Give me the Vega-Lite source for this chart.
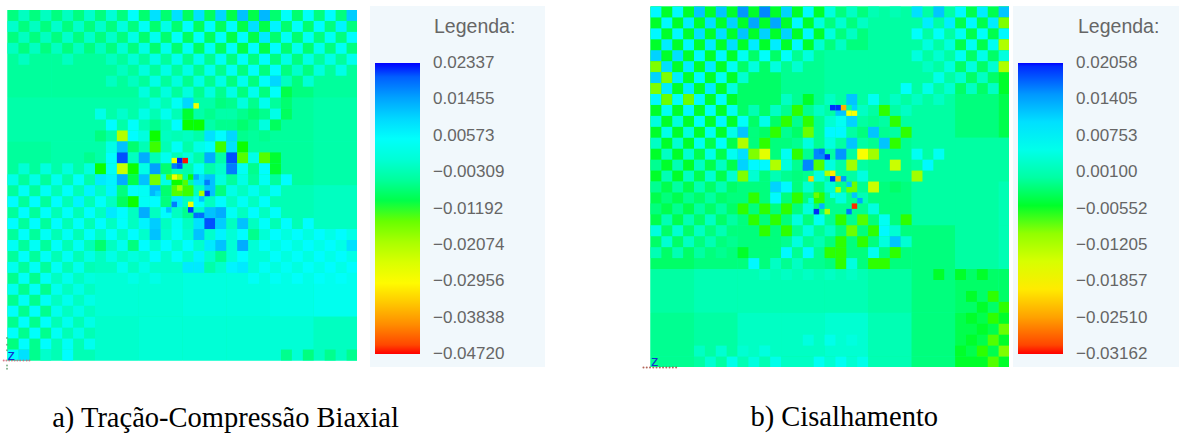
{"$schema":"https://vega.github.io/schema/vega-lite/v6.json","padding":{"left":2,"top":5,"right":0,"bottom":0},"background":"white","config":{"view":{"stroke":null}},"spacing":96,"resolve":{"scale":{"color":"independent"},"legend":{"color":"independent"}},"datasets":{
"aBase":[{"c":0,"r":0,"v":-0.003}],"cBase":[{"c":0,"r":0,"v":0}],
"aBg":[{"c":0,"r":0,"v":-0.007},{"c":4,"r":0,"v":-0.007},{"c":8,"r":0,"v":-0.007},{"c":12,"r":0,"v":-0.008},{"c":16,"r":0,"v":-0.009},{"c":20,"r":0,"v":-0.01},{"c":24,"r":0,"v":-0.008},{"c":28,"r":0,"v":-0.007},
{"c":0,"r":4,"v":-0.005},{"c":4,"r":4,"v":-0.005},{"c":8,"r":4,"v":-0.005},{"c":12,"r":4,"v":-0.005},{"c":16,"r":4,"v":-0.006},{"c":20,"r":4,"v":-0.007},{"c":24,"r":4,"v":-0.007},{"c":28,"r":4,"v":-0.005},
{"c":0,"r":8,"v":-0.004},{"c":4,"r":8,"v":-0.004},{"c":8,"r":8,"v":-0.004},{"c":12,"r":8,"v":-0.003},{"c":16,"r":8,"v":-0.004},{"c":20,"r":8,"v":-0.006},{"c":24,"r":8,"v":-0.005},{"c":28,"r":8,"v":-0.004},
{"c":0,"r":12,"v":-0.005},{"c":4,"r":12,"v":-0.004},{"c":8,"r":12,"v":-0.004},{"c":12,"r":12,"v":-0.003},{"c":16,"r":12,"v":-0.004},{"c":20,"r":12,"v":-0.005},{"c":24,"r":12,"v":-0.005},{"c":28,"r":12,"v":-0.004},
{"c":0,"r":16,"v":-0.005},{"c":4,"r":16,"v":-0.003},{"c":8,"r":16,"v":-0.002},{"c":12,"r":16,"v":-0.002},{"c":16,"r":16,"v":-0.002},{"c":20,"r":16,"v":-0.002},{"c":24,"r":16,"v":-0.003},{"c":28,"r":16,"v":-0.002},
{"c":0,"r":20,"v":-0.005},{"c":4,"r":20,"v":-0.003},{"c":8,"r":20,"v":-0.002},{"c":12,"r":20,"v":-0.001},{"c":16,"r":20,"v":-0.001},{"c":20,"r":20,"v":0},{"c":24,"r":20,"v":0.001},{"c":28,"r":20,"v":0.002},
{"c":0,"r":24,"v":-0.006},{"c":4,"r":24,"v":-0.002},{"c":8,"r":24,"v":0},{"c":12,"r":24,"v":0},{"c":16,"r":24,"v":0.001},{"c":20,"r":24,"v":0.001},{"c":24,"r":24,"v":0.002},{"c":28,"r":24,"v":0.003},
{"c":0,"r":28,"v":-0.006},{"c":4,"r":28,"v":-0.003},{"c":8,"r":28,"v":-0.001},{"c":12,"r":28,"v":0},{"c":16,"r":28,"v":0},{"c":20,"r":28,"v":0},{"c":24,"r":28,"v":0},{"c":28,"r":28,"v":-0.002}],
"aCell":[{"c":1,"r":0,"v":-0.002},{"c":3,"r":0,"v":-0.002},{"c":5,"r":0,"v":-0.002},{"c":7,"r":0,"v":-0.001},{"c":9,"r":0,"v":0},{"c":11,"r":0,"v":0.005},{"c":13,"r":0,"v":0.009},{"c":15,"r":0,"v":0.009},{"c":17,"r":0,"v":0.009},{"c":19,"r":0,"v":0.01},{"c":21,"r":0,"v":0.012},{"c":23,"r":0,"v":0.013},{"c":25,"r":0,"v":0.005},{"c":27,"r":0,"v":0.005},{"c":29,"r":0,"v":0.006},{"c":31,"r":0,"v":0.011},
{"c":0,"r":1,"v":-0.001},{"c":2,"r":1,"v":-0.002},{"c":4,"r":1,"v":-0.001},{"c":6,"r":1,"v":-0.001},{"c":8,"r":1,"v":-0.001},{"c":10,"r":1,"v":0.001},{"c":12,"r":1,"v":0.004},{"c":14,"r":1,"v":0.002},{"c":16,"r":1,"v":0.006},{"c":18,"r":1,"v":0.006},{"c":20,"r":1,"v":0.006},{"c":22,"r":1,"v":0.009},{"c":24,"r":1,"v":0.007},{"c":26,"r":1,"v":0.005},{"c":28,"r":1,"v":0.006},{"c":30,"r":1,"v":0.007},
{"c":1,"r":2,"v":-0.002},{"c":3,"r":2,"v":-0.002},{"c":5,"r":2,"v":-0.001},{"c":7,"r":2,"v":-0.001},{"c":9,"r":2,"v":-0.001},{"c":11,"r":2,"v":0.002},{"c":13,"r":2,"v":0.003},{"c":15,"r":2,"v":0.005},{"c":17,"r":2,"v":0.005},{"c":19,"r":2,"v":0.005},{"c":21,"r":2,"v":0.006},{"c":23,"r":2,"v":0.008},{"c":25,"r":2,"v":0.004},{"c":27,"r":2,"v":0.004},{"c":29,"r":2,"v":0.004},{"c":31,"r":2,"v":0.006},
{"c":0,"r":3,"v":-0.002},{"c":2,"r":3,"v":-0.002},{"c":4,"r":3,"v":-0.002},{"c":6,"r":3,"v":-0.002},{"c":8,"r":3,"v":-0.002},{"c":10,"r":3,"v":0},{"c":12,"r":3,"v":0.002},{"c":14,"r":3,"v":0.003},{"c":16,"r":3,"v":0.004},{"c":18,"r":3,"v":0.004},{"c":20,"r":3,"v":0.005},{"c":22,"r":3,"v":0.006},{"c":24,"r":3,"v":0.006},{"c":26,"r":3,"v":0.003},{"c":28,"r":3,"v":0.003},{"c":30,"r":3,"v":0.004},
{"c":1,"r":4,"v":-0.002},{"c":5,"r":4,"v":-0.002},{"c":9,"r":4,"v":-0.002},{"c":11,"r":4,"v":0},{"c":13,"r":4,"v":0.002},{"c":15,"r":4,"v":0.003},{"c":17,"r":4,"v":0.003},{"c":19,"r":4,"v":0.004},{"c":21,"r":4,"v":0.005},{"c":23,"r":4,"v":0.006},{"c":25,"r":4,"v":0.002},{"c":27,"r":4,"v":0.002},{"c":29,"r":4,"v":0.002},{"c":31,"r":4,"v":0.003},
{"c":10,"r":5,"v":-0.002},{"c":12,"r":5,"v":0.001},{"c":14,"r":5,"v":0.002},{"c":16,"r":5,"v":0.002},{"c":18,"r":5,"v":0.003},{"c":20,"r":5,"v":0.004},{"c":22,"r":5,"v":0.005},{"c":24,"r":5,"v":0.006},{"c":26,"r":5,"v":-0.001},{"c":28,"r":5,"v":0.001},{"c":30,"r":5,"v":0.002},
{"c":9,"r":6,"v":-0.002},{"c":11,"r":6,"v":-0.002},{"c":13,"r":6,"v":0.002},{"c":15,"r":6,"v":0.001},{"c":17,"r":6,"v":0.002},{"c":19,"r":6,"v":0.002},{"c":21,"r":6,"v":0.003},{"c":23,"r":6,"v":0.005},{"c":24,"r":6,"v":0.01},{"c":25,"r":6,"v":-0.002},{"c":27,"r":6,"v":0},
{"c":12,"r":7,"v":0.001},{"c":14,"r":7,"v":0.001},{"c":16,"r":7,"v":0.001},{"c":18,"r":7,"v":0.001},{"c":20,"r":7,"v":0.002},{"c":22,"r":7,"v":0.003},{"c":24,"r":7,"v":0.005},{"c":25,"r":7,"v":-0.01},
{"c":13,"r":8,"v":0.001},{"c":15,"r":8,"v":0.004},{"c":16,"r":8,"v":0.01},{"c":19,"r":8,"v":-0.007},{"c":21,"r":8,"v":0.001},{"c":23,"r":8,"v":0.003},{"c":25,"r":8,"v":-0.008},
{"c":8,"r":9,"v":0.002},{"c":10,"r":9,"v":-0.001},{"c":12,"r":9,"v":0.002},{"c":14,"r":9,"v":0.003},{"c":16,"r":9,"v":-0.011},{"c":18,"r":9,"v":-0.006},{"c":20,"r":9,"v":-0.004},{"c":22,"r":9,"v":-0.008},{"c":24,"r":9,"v":0.002},{"c":25,"r":9,"v":-0.009},
{"c":9,"r":10,"v":0.006},{"c":11,"r":10,"v":0.005},{"c":13,"r":10,"v":-0.006},{"c":15,"r":10,"v":0.006},{"c":16,"r":10,"v":-0.012},{"c":17,"r":10,"v":-0.012},{"c":19,"r":10,"v":-0.006},{"c":21,"r":10,"v":-0.008},{"c":23,"r":10,"v":0.001},{"c":24,"r":10,"v":-0.009},
{"c":8,"r":11,"v":-0.007},{"c":10,"r":11,"v":-0.021},{"c":11,"r":11,"v":0.006},{"c":12,"r":11,"v":0.001},{"c":13,"r":11,"v":-0.012},{"c":14,"r":11,"v":-0.002},{"c":16,"r":11,"v":-0.002},{"c":18,"r":11,"v":0.009},{"c":19,"r":11,"v":0.006},{"c":20,"r":11,"v":0.01},{"c":22,"r":11,"v":-0.005},{"c":23,"r":11,"v":-0.006},
{"c":9,"r":12,"v":0.002},{"c":10,"r":12,"v":0.012},{"c":11,"r":12,"v":-0.008},{"c":13,"r":12,"v":-0.013},{"c":15,"r":12,"v":0.004},{"c":17,"r":12,"v":0.002},{"c":18,"r":12,"v":0.006},{"c":19,"r":12,"v":-0.013},{"c":20,"r":12,"v":0.009},{"c":21,"r":12,"v":-0.012},{"c":22,"r":12,"v":-0.005},
{"c":7,"r":13,"v":-0.006},{"c":9,"r":13,"v":0.006},{"c":10,"r":13,"v":0.021},{"c":11,"r":13,"v":-0.002},{"c":12,"r":13,"v":0.014},{"c":14,"r":13,"v":0.003},{"c":16,"r":13,"v":0.001},{"c":18,"r":13,"v":0.014},{"c":20,"r":13,"v":0.021},{"c":21,"r":13,"v":-0.014},{"c":22,"r":13,"v":0.002},{"c":23,"r":13,"v":-0.014},{"c":24,"r":13,"v":-0.011},
{"c":8,"r":14,"v":-0.012},{"c":9,"r":14,"v":0.004},{"c":10,"r":14,"v":-0.023},{"c":11,"r":14,"v":-0.012},{"c":12,"r":14,"v":0.002},{"c":13,"r":14,"v":0.015},{"c":14,"r":14,"v":-0.008},{"c":17,"r":14,"v":0.004},{"c":18,"r":14,"v":-0.004},{"c":19,"r":14,"v":-0.001},{"c":20,"r":14,"v":0.018},{"c":21,"r":14,"v":0.004},{"c":22,"r":14,"v":-0.006},{"c":23,"r":14,"v":0.006},{"c":24,"r":14,"v":-0.011},
{"c":8,"r":15,"v":0.008},{"c":9,"r":15,"v":0.007},{"c":10,"r":15,"v":0.014},{"c":11,"r":15,"v":-0.01},{"c":12,"r":15,"v":0.012},{"c":13,"r":15,"v":-0.016},{"c":14,"r":15,"v":0.002},{"c":15,"r":15,"v":-0.012},{"c":17,"r":15,"v":0.009},{"c":18,"r":15,"v":0.012},{"c":19,"r":15,"v":0.001},{"c":21,"r":15,"v":0.002},{"c":23,"r":15,"v":0.004},{"c":25,"r":15,"v":0.006},
{"c":7,"r":16,"v":0.007},{"c":9,"r":16,"v":0.007},{"c":10,"r":16,"v":-0.007},{"c":11,"r":16,"v":0.005},{"c":12,"r":16,"v":0.004},{"c":13,"r":16,"v":0.013},{"c":14,"r":16,"v":-0.008},{"c":15,"r":16,"v":-0.014},{"c":16,"r":16,"v":-0.013},{"c":18,"r":16,"v":0.012},{"c":19,"r":16,"v":-0.007},{"c":20,"r":16,"v":0.002},{"c":22,"r":16,"v":0.003},{"c":24,"r":16,"v":0.004},
{"c":8,"r":17,"v":0.005},{"c":10,"r":17,"v":-0.009},{"c":11,"r":17,"v":-0.012},{"c":12,"r":17,"v":0.004},{"c":13,"r":17,"v":0.006},{"c":14,"r":17,"v":-0.007},{"c":15,"r":17,"v":0.008},{"c":17,"r":17,"v":0.006},{"c":19,"r":17,"v":0.006},{"c":21,"r":17,"v":0.004},{"c":23,"r":17,"v":0.005},
{"c":7,"r":18,"v":0.006},{"c":9,"r":18,"v":0.008},{"c":10,"r":18,"v":0.006},{"c":12,"r":18,"v":0.014},{"c":14,"r":18,"v":0.006},{"c":16,"r":18,"v":-0.006},{"c":18,"r":18,"v":0.012},{"c":19,"r":18,"v":0.014},{"c":20,"r":18,"v":0.004},{"c":22,"r":18,"v":0.006},{"c":24,"r":18,"v":0.005},
{"c":8,"r":19,"v":0.006},{"c":10,"r":19,"v":0.005},{"c":12,"r":19,"v":0.007},{"c":13,"r":19,"v":0.011},{"c":15,"r":19,"v":0.004},{"c":17,"r":19,"v":0.009},{"c":18,"r":19,"v":0.021},{"c":19,"r":19,"v":0.011},{"c":21,"r":19,"v":0.012},{"c":23,"r":19,"v":0.005},{"c":25,"r":19,"v":0.006},{"c":27,"r":19,"v":0.006},
{"c":9,"r":20,"v":0.005},{"c":11,"r":20,"v":0.006},{"c":13,"r":20,"v":0.012},{"c":15,"r":20,"v":0.005},{"c":17,"r":20,"v":0.012},{"c":19,"r":20,"v":0.007},{"c":21,"r":20,"v":0.006},{"c":22,"r":20,"v":-0.006},{"c":24,"r":20,"v":0.006},{"c":26,"r":20,"v":0.006},{"c":28,"r":20,"v":0.006},{"c":30,"r":20,"v":0.006},
{"c":8,"r":21,"v":-0.008},{"c":10,"r":21,"v":0.003},{"c":11,"r":21,"v":-0.007},{"c":12,"r":21,"v":0.006},{"c":14,"r":21,"v":0.006},{"c":16,"r":21,"v":0.006},{"c":18,"r":21,"v":0.008},{"c":19,"r":21,"v":0.012},{"c":21,"r":21,"v":0.014},{"c":23,"r":21,"v":0.005},{"c":25,"r":21,"v":0.005},{"c":27,"r":21,"v":0.006},{"c":29,"r":21,"v":0.006},{"c":31,"r":21,"v":0.009},
{"c":9,"r":22,"v":0.002},{"c":11,"r":22,"v":0.001},{"c":13,"r":22,"v":0.006},{"c":15,"r":22,"v":0.005},{"c":17,"r":22,"v":0.007},{"c":19,"r":22,"v":-0.006},{"c":21,"r":22,"v":0.006},{"c":24,"r":22,"v":0.005},{"c":26,"r":22,"v":0.005},{"c":28,"r":22,"v":0.006},{"c":30,"r":22,"v":0.006},
{"c":10,"r":23,"v":0.003},{"c":12,"r":23,"v":0.002},{"c":16,"r":23,"v":0.008},{"c":17,"r":23,"v":0.008},{"c":18,"r":23,"v":-0.004},{"c":20,"r":23,"v":0.007},{"c":21,"r":23,"v":0.008},{"c":23,"r":23,"v":0.004},{"c":25,"r":23,"v":0.004},{"c":27,"r":23,"v":0.005},{"c":29,"r":23,"v":0.006},{"c":31,"r":23,"v":0.006},
{"c":11,"r":24,"v":0.002},{"c":13,"r":24,"v":0.002},{"c":22,"r":24,"v":0.004},{"c":24,"r":24,"v":0.004},{"c":26,"r":24,"v":0.005},{"c":28,"r":24,"v":0.005},{"c":30,"r":24,"v":0.005},
{"c":1,"r":14,"v":0},{"c":3,"r":14,"v":0.001},{"c":5,"r":14,"v":0.001},{"c":7,"r":14,"v":0.001},{"c":0,"r":15,"v":0.002},{"c":2,"r":15,"v":0.002},{"c":4,"r":15,"v":0.003},{"c":6,"r":15,"v":0.005},
{"c":1,"r":16,"v":0.004},{"c":3,"r":16,"v":0.004},{"c":5,"r":16,"v":0.005},{"c":0,"r":17,"v":0.006},{"c":2,"r":17,"v":0.006},{"c":4,"r":17,"v":0.006},{"c":6,"r":17,"v":0.007},{"c":1,"r":18,"v":0.006},{"c":3,"r":18,"v":0.005},{"c":5,"r":18,"v":0.005},{"c":0,"r":19,"v":0.006},{"c":2,"r":19,"v":0.006},{"c":4,"r":19,"v":0.006},{"c":6,"r":19,"v":0.005},
{"c":1,"r":20,"v":0.005},{"c":3,"r":20,"v":0.004},{"c":5,"r":20,"v":0.004},{"c":7,"r":20,"v":0.005},{"c":0,"r":21,"v":0.004},{"c":2,"r":21,"v":0.004},{"c":4,"r":21,"v":0.005},{"c":6,"r":21,"v":0.004},{"c":1,"r":22,"v":0.005},{"c":3,"r":22,"v":0.004},{"c":5,"r":22,"v":0.004},{"c":7,"r":22,"v":0.002},{"c":0,"r":23,"v":0.003},{"c":2,"r":23,"v":0.004},{"c":4,"r":23,"v":0.004},{"c":6,"r":23,"v":0.003},
{"c":1,"r":24,"v":0.004},{"c":3,"r":24,"v":0.004},{"c":5,"r":24,"v":0.003},{"c":7,"r":24,"v":0.001},{"c":0,"r":25,"v":0.003},{"c":2,"r":25,"v":0.004},{"c":4,"r":25,"v":0.003},{"c":6,"r":25,"v":0.002},{"c":1,"r":26,"v":0.004},{"c":3,"r":26,"v":0.004},{"c":5,"r":26,"v":0.003},{"c":7,"r":26,"v":0.002},{"c":0,"r":27,"v":0.005},{"c":2,"r":27,"v":0.005},{"c":4,"r":27,"v":0.003},{"c":6,"r":27,"v":0.002},
{"c":1,"r":28,"v":0.005},{"c":3,"r":28,"v":0.005},{"c":5,"r":28,"v":0.003},{"c":7,"r":28,"v":0.002},{"c":0,"r":29,"v":0.005},{"c":2,"r":29,"v":0.005},{"c":4,"r":29,"v":0.004},{"c":6,"r":29,"v":0.002},{"c":1,"r":30,"v":0.006},{"c":3,"r":30,"v":0.006},{"c":5,"r":30,"v":0.004},{"c":7,"r":30,"v":0.003},{"c":0,"r":30,"v":-0.007},{"c":1,"r":31,"v":0.009},{"c":0,"r":31,"v":0.006},{"c":3,"r":31,"v":-0.001},{"c":5,"r":31,"v":0.006},{"c":25,"r":31,"v":-0.006},{"c":27,"r":31,"v":-0.007},{"c":29,"r":31,"v":-0.006},{"c":31,"r":31,"v":-0.006}],
"aFine":[{"c":15,"r":13.5,"v":-0.028},{"c":15.5,"r":13.5,"v":0.023},{"c":16,"r":13.5,"v":-0.047},{"c":15,"r":14,"v":0.018},{"c":15.5,"r":14,"v":0.021},{"c":15,"r":15,"v":-0.028},{"c":15.5,"r":15,"v":-0.02},{"c":15.5,"r":16,"v":-0.02},{"c":16,"r":15.5,"v":-0.014},{"c":16.5,"r":15,"v":-0.012},{"c":18,"r":15.5,"v":0.018},{"c":18,"r":16.5,"v":0.022},{"c":17.5,"r":16.5,"v":-0.02},{"c":18.5,"r":16,"v":0.012},{"c":16.5,"r":17.5,"v":-0.028},{"c":16.5,"r":18,"v":0.022},{"c":17,"r":18.5,"v":0.019},{"c":17.5,"r":18.5,"v":0.019},{"c":15,"r":17.5,"v":0.018},{"c":14.5,"r":18,"v":0.012},{"c":17,"r":8.5,"v":-0.028},{"c":13.5,"r":16.5,"v":0.01},{"c":14.5,"r":15,"v":-0.014},{"c":17,"r":15,"v":0.014},{"c":17.5,"r":17,"v":0.012}],
"cBg":[{"c":0,"r":0,"v":-0.005},{"c":4,"r":0,"v":-0.005},{"c":8,"r":0,"v":-0.005},{"c":12,"r":0,"v":-0.005},{"c":16,"r":0,"v":-0.002},{"c":20,"r":0,"v":0},{"c":24,"r":0,"v":0},{"c":28,"r":0,"v":-0.004},{"c":32,"r":0,"v":-0.005},
{"c":0,"r":4,"v":-0.005},{"c":4,"r":4,"v":-0.005},{"c":8,"r":4,"v":-0.003},{"c":12,"r":4,"v":-0.001},{"c":16,"r":4,"v":0},{"c":20,"r":4,"v":0},{"c":24,"r":4,"v":0},{"c":28,"r":4,"v":-0.003},{"c":32,"r":4,"v":-0.005},
{"c":0,"r":8,"v":-0.005},{"c":4,"r":8,"v":-0.005},{"c":8,"r":8,"v":-0.003},{"c":12,"r":8,"v":-0.001},{"c":16,"r":8,"v":0},{"c":20,"r":8,"v":0},{"c":24,"r":8,"v":0},{"c":28,"r":8,"v":-0.002},{"c":32,"r":8,"v":-0.004},
{"c":0,"r":12,"v":-0.005},{"c":4,"r":12,"v":-0.004},{"c":8,"r":12,"v":-0.002},{"c":12,"r":12,"v":-0.001},{"c":16,"r":12,"v":0},{"c":20,"r":12,"v":-0.001},{"c":24,"r":12,"v":0},{"c":28,"r":12,"v":0},{"c":32,"r":12,"v":0},
{"c":0,"r":16,"v":-0.004},{"c":4,"r":16,"v":-0.003},{"c":8,"r":16,"v":-0.002},{"c":12,"r":16,"v":-0.002},{"c":16,"r":16,"v":-0.001},{"c":20,"r":16,"v":-0.002},{"c":24,"r":16,"v":0},{"c":28,"r":16,"v":0},{"c":32,"r":16,"v":0.001},
{"c":0,"r":20,"v":-0.003},{"c":4,"r":20,"v":-0.002},{"c":8,"r":20,"v":-0.002},{"c":12,"r":20,"v":-0.001},{"c":16,"r":20,"v":-0.002},{"c":20,"r":20,"v":-0.002},{"c":24,"r":20,"v":-0.002},{"c":28,"r":20,"v":0},{"c":32,"r":20,"v":0.001},
{"c":0,"r":24,"v":0},{"c":4,"r":24,"v":0.001},{"c":8,"r":24,"v":0.001},{"c":12,"r":24,"v":0.001},{"c":16,"r":24,"v":0.001},{"c":20,"r":24,"v":0},{"c":24,"r":24,"v":-0.002},{"c":28,"r":24,"v":-0.003},{"c":32,"r":24,"v":-0.003},
{"c":0,"r":28,"v":-0.001},{"c":4,"r":28,"v":0},{"c":8,"r":28,"v":0.002},{"c":12,"r":28,"v":0.002},{"c":16,"r":28,"v":0.003},{"c":20,"r":28,"v":0.001},{"c":24,"r":28,"v":-0.002},{"c":28,"r":28,"v":-0.004},{"c":32,"r":28,"v":-0.005},
{"c":0,"r":32,"v":-0.001},{"c":4,"r":32,"v":0},{"c":8,"r":32,"v":0.001},{"c":12,"r":32,"v":0.002},{"c":16,"r":32,"v":0.003},{"c":20,"r":32,"v":0.001},{"c":24,"r":32,"v":-0.002},{"c":28,"r":32,"v":-0.005},{"c":32,"r":32,"v":-0.005}],
"cCell":[{"c":0,"r":0,"v":0.008},{"c":2,"r":0,"v":0.008},{"c":4,"r":0,"v":0.012},{"c":6,"r":0,"v":0.012},{"c":8,"r":0,"v":0.015},{"c":10,"r":0,"v":0.016},{"c":12,"r":0,"v":0.011},{"c":14,"r":0,"v":0.008},{"c":16,"r":0,"v":0.004},{"c":18,"r":0,"v":0.002},{"c":20,"r":0,"v":0.001},{"c":22,"r":0,"v":0.001},{"c":24,"r":0,"v":0.01},{"c":26,"r":0,"v":0.012},{"c":28,"r":0,"v":0.008},{"c":30,"r":0,"v":0.009},{"c":32,"r":0,"v":0.012},
{"c":1,"r":1,"v":0.008},{"c":3,"r":1,"v":0.009},{"c":5,"r":1,"v":0.01},{"c":7,"r":1,"v":0.011},{"c":9,"r":1,"v":0.014},{"c":11,"r":1,"v":0.014},{"c":13,"r":1,"v":0.008},{"c":15,"r":1,"v":0.004},{"c":17,"r":1,"v":0.003},{"c":19,"r":1,"v":0.002},{"c":25,"r":1,"v":0.009},{"c":27,"r":1,"v":0.009},{"c":29,"r":1,"v":0.008},{"c":31,"r":1,"v":0.009},{"c":32,"r":1,"v":-0.009},
{"c":0,"r":2,"v":0.008},{"c":2,"r":2,"v":0.008},{"c":4,"r":2,"v":0.01},{"c":6,"r":2,"v":0.01},{"c":8,"r":2,"v":0.012},{"c":10,"r":2,"v":0.011},{"c":12,"r":2,"v":0.011},{"c":14,"r":2,"v":0.008},{"c":16,"r":2,"v":0.004},{"c":18,"r":2,"v":0.002},{"c":24,"r":2,"v":0.007},{"c":26,"r":2,"v":0.007},{"c":28,"r":2,"v":0.006},{"c":30,"r":2,"v":0.007},{"c":32,"r":2,"v":0.008},
{"c":1,"r":3,"v":0.009},{"c":3,"r":3,"v":0.008},{"c":5,"r":3,"v":0.009},{"c":7,"r":3,"v":0.01},{"c":9,"r":3,"v":0.009},{"c":11,"r":3,"v":0.009},{"c":13,"r":3,"v":0.008},{"c":15,"r":3,"v":0.003},{"c":17,"r":3,"v":0.002},{"c":25,"r":3,"v":0.004},{"c":27,"r":3,"v":0.004},{"c":29,"r":3,"v":0.006},{"c":31,"r":3,"v":0.006},{"c":32,"r":3,"v":-0.012},
{"c":0,"r":4,"v":0.011},{"c":2,"r":4,"v":0.01},{"c":4,"r":4,"v":0.008},{"c":6,"r":4,"v":0.008},{"c":8,"r":4,"v":0.006},{"c":10,"r":4,"v":0.007},{"c":12,"r":4,"v":0.007},{"c":14,"r":4,"v":0.004},{"c":24,"r":4,"v":0.004},{"c":26,"r":4,"v":0.003},{"c":28,"r":4,"v":0.006},{"c":30,"r":4,"v":0.005},{"c":32,"r":4,"v":0.004},
{"c":0,"r":5,"v":-0.009},{"c":1,"r":5,"v":0.01},{"c":3,"r":5,"v":0.009},{"c":5,"r":5,"v":0.009},{"c":7,"r":5,"v":0.006},{"c":9,"r":5,"v":0.004},{"c":11,"r":5,"v":0.004},{"c":13,"r":5,"v":0.003},{"c":25,"r":5,"v":0.002},{"c":27,"r":5,"v":0.004},{"c":29,"r":5,"v":0.004},{"c":31,"r":5,"v":0.003},{"c":32,"r":5,"v":-0.012},
{"c":0,"r":6,"v":0.011},{"c":1,"r":6,"v":-0.009},{"c":2,"r":6,"v":0.009},{"c":4,"r":6,"v":0.008},{"c":6,"r":6,"v":0.006},{"c":8,"r":6,"v":0.003},{"c":26,"r":6,"v":0.005},{"c":28,"r":6,"v":0.003},{"c":30,"r":6,"v":0.002},
{"c":0,"r":7,"v":-0.009},{"c":1,"r":7,"v":0.009},{"c":3,"r":7,"v":0.009},{"c":5,"r":7,"v":0.009},{"c":7,"r":7,"v":0.004},{"c":23,"r":7,"v":0.007},{"c":25,"r":7,"v":0.005},{"c":27,"r":7,"v":0.003},{"c":29,"r":7,"v":0.002},{"c":31,"r":7,"v":0.002},
{"c":0,"r":8,"v":0.008},{"c":1,"r":8,"v":-0.008},{"c":2,"r":8,"v":0.007},{"c":3,"r":8,"v":-0.008},{"c":4,"r":8,"v":0.008},{"c":6,"r":8,"v":0.007},{"c":12,"r":8,"v":0.002},{"c":14,"r":8,"v":-0.005},{"c":16,"r":8,"v":0.002},{"c":18,"r":8,"v":0.012},{"c":20,"r":8,"v":0.006},{"c":22,"r":8,"v":0.002},{"c":24,"r":8,"v":0.002},{"c":26,"r":8,"v":0.002},
{"c":1,"r":9,"v":0.006},{"c":3,"r":9,"v":0.008},{"c":5,"r":9,"v":0.007},{"c":7,"r":9,"v":0.006},{"c":9,"r":9,"v":0.001},{"c":11,"r":9,"v":0.002},{"c":13,"r":9,"v":-0.006},{"c":15,"r":9,"v":0.002},{"c":17,"r":9,"v":0.012},{"c":19,"r":9,"v":0.002},{"c":21,"r":9,"v":-0.006},{"c":23,"r":9,"v":0.002},
{"c":0,"r":10,"v":0.004},{"c":2,"r":10,"v":0.004},{"c":4,"r":10,"v":0.007},{"c":6,"r":10,"v":0.008},{"c":8,"r":10,"v":0.007},{"c":10,"r":10,"v":0.005},{"c":12,"r":10,"v":-0.006},{"c":14,"r":10,"v":-0.006},{"c":16,"r":10,"v":0.003},{"c":17,"r":10,"v":0.006},{"c":18,"r":10,"v":0.011},{"c":20,"r":10,"v":-0.001},{"c":22,"r":10,"v":-0.006},
{"c":1,"r":11,"v":0.005},{"c":3,"r":11,"v":0.004},{"c":5,"r":11,"v":0.006},{"c":7,"r":11,"v":0.005},{"c":8,"r":11,"v":0.012},{"c":9,"r":11,"v":-0.002},{"c":11,"r":11,"v":-0.006},{"c":13,"r":11,"v":-0.003},{"c":14,"r":11,"v":-0.008},{"c":16,"r":11,"v":0.008},{"c":17,"r":11,"v":0.008},{"c":19,"r":11,"v":-0.002},{"c":20,"r":11,"v":0.012},{"c":21,"r":11,"v":-0.001},{"c":23,"r":11,"v":-0.006},
{"c":0,"r":12,"v":0.002},{"c":2,"r":12,"v":0.003},{"c":4,"r":12,"v":0.006},{"c":6,"r":12,"v":0.007},{"c":8,"r":12,"v":-0.012},{"c":10,"r":12,"v":-0.006},{"c":12,"r":12,"v":-0.002},{"c":14,"r":12,"v":0.004},{"c":16,"r":12,"v":0.004},{"c":18,"r":12,"v":0.012},{"c":21,"r":12,"v":0.012},{"c":22,"r":12,"v":-0.006},
{"c":1,"r":13,"v":0.002},{"c":3,"r":13,"v":0.003},{"c":5,"r":13,"v":0.005},{"c":7,"r":13,"v":0.006},{"c":8,"r":13,"v":0.01},{"c":9,"r":13,"v":-0.009},{"c":10,"r":13,"v":-0.016},{"c":12,"r":13,"v":0.006},{"c":13,"r":13,"v":-0.006},{"c":15,"r":13,"v":0.016},{"c":17,"r":13,"v":0.015},{"c":19,"r":13,"v":-0.018},{"c":20,"r":13,"v":-0.011},{"c":24,"r":13,"v":0.006},{"c":26,"r":13,"v":0.006},
{"c":0,"r":14,"v":-0.001},{"c":2,"r":14,"v":0.001},{"c":4,"r":14,"v":0.002},{"c":6,"r":14,"v":0.002},{"c":8,"r":14,"v":0.011},{"c":9,"r":14,"v":0.008},{"c":10,"r":14,"v":0.008},{"c":11,"r":14,"v":-0.012},{"c":12,"r":14,"v":0.004},{"c":14,"r":14,"v":0.016},{"c":15,"r":14,"v":-0.007},{"c":16,"r":14,"v":0.004},{"c":18,"r":14,"v":-0.011},{"c":22,"r":14,"v":-0.014},{"c":25,"r":14,"v":0.008},
{"c":1,"r":15,"v":0.001},{"c":3,"r":15,"v":0.002},{"c":5,"r":15,"v":0.003},{"c":7,"r":15,"v":0.003},{"c":8,"r":15,"v":-0.009},{"c":9,"r":15,"v":0.003},{"c":11,"r":15,"v":0.001},{"c":13,"r":15,"v":-0.002},{"c":15,"r":15,"v":0.004},{"c":19,"r":15,"v":0.004},{"c":24,"r":15,"v":-0.011},
{"c":0,"r":16,"v":-0.001},{"c":2,"r":16,"v":0},{"c":4,"r":16,"v":0.001},{"c":6,"r":16,"v":0.001},{"c":11,"r":16,"v":0.011},{"c":12,"r":16,"v":0.008},{"c":14,"r":16,"v":0.003},{"c":16,"r":16,"v":0.003},{"c":18,"r":16,"v":-0.008},{"c":20,"r":16,"v":-0.014},{"c":22,"r":16,"v":-0.003},
{"c":1,"r":17,"v":-0.002},{"c":3,"r":17,"v":-0.001},{"c":5,"r":17,"v":0},{"c":7,"r":17,"v":-0.002},{"c":9,"r":17,"v":-0.006},{"c":11,"r":17,"v":0.008},{"c":13,"r":17,"v":-0.006},{"c":15,"r":17,"v":-0.006},{"c":17,"r":17,"v":0.004},{"c":19,"r":17,"v":0.001},{"c":21,"r":17,"v":-0.002},
{"c":0,"r":18,"v":-0.002},{"c":2,"r":18,"v":-0.001},{"c":4,"r":18,"v":0},{"c":6,"r":18,"v":0},{"c":8,"r":18,"v":-0.006},{"c":10,"r":18,"v":-0.006},{"c":12,"r":18,"v":-0.006},{"c":14,"r":18,"v":0.004},{"c":20,"r":18,"v":0.004},{"c":22,"r":18,"v":-0.002},
{"c":1,"r":19,"v":0.001},{"c":3,"r":19,"v":0.001},{"c":5,"r":19,"v":0.002},{"c":7,"r":19,"v":0},{"c":9,"r":19,"v":-0.006},{"c":11,"r":19,"v":-0.006},{"c":13,"r":19,"v":0.004},{"c":15,"r":19,"v":0.006},{"c":17,"r":19,"v":-0.006},{"c":19,"r":19,"v":-0.007},{"c":21,"r":19,"v":0.006},{"c":23,"r":19,"v":-0.006},
{"c":0,"r":20,"v":0.004},{"c":2,"r":20,"v":0.003},{"c":4,"r":20,"v":0.002},{"c":6,"r":20,"v":0.001},{"c":10,"r":20,"v":-0.006},{"c":12,"r":20,"v":-0.006},{"c":14,"r":20,"v":0.004},{"c":16,"r":20,"v":0.002},{"c":18,"r":20,"v":-0.008},{"c":20,"r":20,"v":-0.006},{"c":21,"r":20,"v":0.008},{"c":22,"r":20,"v":0.003},{"c":23,"r":20,"v":-0.002},
{"c":1,"r":21,"v":0.003},{"c":3,"r":21,"v":0.002},{"c":5,"r":21,"v":0.001},{"c":7,"r":21,"v":-0.001},{"c":11,"r":21,"v":-0.002},{"c":13,"r":21,"v":0.004},{"c":15,"r":21,"v":0.001},{"c":17,"r":21,"v":-0.006},{"c":19,"r":21,"v":-0.006},{"c":21,"r":21,"v":0.004},{"c":22,"r":21,"v":0.012},{"c":23,"r":21,"v":0.003},
{"c":0,"r":22,"v":0.001},{"c":2,"r":22,"v":0.001},{"c":4,"r":22,"v":0},{"c":6,"r":22,"v":-0.001},{"c":8,"r":22,"v":-0.005},{"c":10,"r":22,"v":-0.002},{"c":12,"r":22,"v":0.008},{"c":14,"r":22,"v":0.008},{"c":16,"r":22,"v":-0.006},{"c":17,"r":22,"v":-0.006},{"c":20,"r":22,"v":0.006},{"c":22,"r":22,"v":-0.006},
{"c":9,"r":23,"v":0.008},{"c":11,"r":23,"v":0.002},{"c":13,"r":23,"v":0.002},{"c":15,"r":23,"v":-0.001},{"c":17,"r":23,"v":-0.006},{"c":18,"r":23,"v":0.004},{"c":20,"r":23,"v":-0.006},{"c":21,"r":23,"v":-0.006},
{"c":10,"r":24,"v":0.002},{"c":12,"r":24,"v":0.002},{"c":14,"r":24,"v":0.002},{"c":16,"r":24,"v":0.002},{"c":18,"r":24,"v":0.002},{"c":26,"r":24,"v":-0.005},{"c":28,"r":24,"v":-0.005},{"c":30,"r":24,"v":-0.005},{"c":32,"r":24,"v":-0.003},
{"c":29,"r":26,"v":-0.005},{"c":31,"r":26,"v":-0.006},{"c":30,"r":27,"v":-0.005},{"c":32,"r":27,"v":-0.006},{"c":29,"r":28,"v":-0.005},{"c":31,"r":28,"v":-0.006},{"c":30,"r":29,"v":-0.005},{"c":32,"r":29,"v":-0.008},{"c":29,"r":30,"v":-0.005},{"c":31,"r":30,"v":-0.007},{"c":28,"r":31,"v":-0.005},{"c":30,"r":31,"v":-0.006},{"c":32,"r":31,"v":-0.009},{"c":29,"r":32,"v":-0.005},{"c":31,"r":32,"v":-0.007},
{"c":4,"r":31,"v":0.002},{"c":6,"r":31,"v":0.003},{"c":8,"r":31,"v":0.003},{"c":10,"r":31,"v":0.004},{"c":14,"r":30,"v":0.004},{"c":16,"r":30,"v":0.005},{"c":18,"r":30,"v":0.004},{"c":5,"r":32,"v":0.003},{"c":7,"r":32,"v":0.005},{"c":9,"r":32,"v":0.004},{"c":11,"r":32,"v":0.005},{"c":15,"r":32,"v":0.006},{"c":17,"r":32,"v":0.006},{"c":19,"r":32,"v":0.005}],
"cFine":[{"c":16.5,"r":9,"v":0.02},{"c":17,"r":9,"v":0.02},{"c":17.5,"r":9,"v":-0.024},{"c":18,"r":9.5,"v":-0.018},{"c":18.5,"r":9.5,"v":-0.018},{"c":18.5,"r":9,"v":0.011},{"c":15.5,"r":13,"v":0.017},{"c":16,"r":13.5,"v":0.02},{"c":14,"r":14.5,"v":0.016},{"c":14.5,"r":15.5,"v":-0.022},{"c":16.5,"r":15.5,"v":0.02},{"c":16.5,"r":15,"v":-0.02},{"c":17,"r":15.5,"v":-0.024},{"c":17.5,"r":15.5,"v":0.015},{"c":16,"r":15,"v":-0.012},{"c":15,"r":18.5,"v":0.02},{"c":15.5,"r":18,"v":0.013},{"c":18.5,"r":18,"v":-0.031},{"c":19,"r":17.5,"v":0.014},{"c":18,"r":18.5,"v":0.017},{"c":16,"r":18.5,"v":-0.012},{"c":18.5,"r":17,"v":0.012},{"c":15,"r":17,"v":-0.008},{"c":14.5,"r":17.5,"v":0.004},{"c":16.5,"r":17,"v":0.006},{"c":17,"r":16.5,"v":-0.012},{"c":18,"r":16,"v":0.012}]
},"hconcat":[{"spacing":13,"bounds":"flush","resolve":{"scale":{"color":"independent"},"legend":{"color":"independent"}},"hconcat":[
{"width":350,"height":361,"title":{"text":"a) Tração-Compressão Biaxial","orient":"bottom","anchor":"start","dx":49.5,"offset":34,"font":"Liberation Serif","fontSize":28.5,"fontWeight":"normal","color":"#000"},
"layer":[
{"data":{"name":"aBase"},"mark":{"type":"rect","clip":true},"encoding":{"x":{"field":"c","bin":{"step":32,"extent":[0,32]},"scale":{"domain":[0,32],"nice":false,"zero":false},"axis":null},"y":{"field":"r","bin":{"step":32,"extent":[0,32]},"scale":{"domain":[-0.32,32.64],"nice":false,"zero":false,"reverse":true},"axis":null},"color":{"field":"v","type":"quantitative","scale":{"domain":[-0.0472,-0.02956,-0.01192,0.00573,0.02337],"range":["#ff0000","#ffff00","#00ff00","#00ffff","#0000ff"]},"legend":null}}},
{"data":{"name":"aBg"},"mark":{"type":"rect","clip":true},"encoding":{"x":{"field":"c","bin":{"step":4,"extent":[0,32]},"axis":null},"y":{"field":"r","bin":{"step":4,"extent":[0,32]},"axis":null},"color":{"field":"v","type":"quantitative","legend":null}}},
{"data":{"name":"aCell"},"mark":{"type":"rect","clip":true},"encoding":{"x":{"field":"c","bin":{"step":1,"extent":[0,32]},"axis":null},"y":{"field":"r","bin":{"step":1,"extent":[0,32]},"axis":null},"color":{"field":"v","type":"quantitative","legend":null}}},
{"data":{"name":"aFine"},"mark":{"type":"rect","clip":true},"encoding":{"x":{"field":"c","bin":{"step":0.5,"extent":[0,32]},"axis":null},"y":{"field":"r","bin":{"step":0.5,"extent":[0,32]},"axis":null},"color":{"field":"v","type":"quantitative","legend":null}}},
{"data":{"values":[{"c":-0.3,"r":32.04},{"c":-0.05,"r":32.04},{"c":0.2,"r":32.04},{"c":0.45,"r":32.04},{"c":0.7,"r":32.04},{"c":0.95,"r":32.04},{"c":1.2,"r":32.04},{"c":1.5,"r":32.04},{"c":1.8,"r":32.04},{"c":2.05,"r":32.04}]},"mark":{"type":"circle","size":4,"color":"#d06070","opacity":0.8},"encoding":{"x":{"field":"c","type":"quantitative"},"y":{"field":"r","type":"quantitative"}}},
{"data":{"values":[{"c":0,"r":30},{"c":0,"r":30.6},{"c":0,"r":31.1},{"c":0,"r":32.5},{"c":0,"r":32.8}]},"mark":{"type":"circle","size":4,"color":"#60a070","opacity":0.8},"encoding":{"x":{"field":"c","type":"quantitative"},"y":{"field":"r","type":"quantitative"}}},
{"data":{"values":[{"c":0.05,"r":31.55,"t":"z"}]},"mark":{"type":"text","font":"Liberation Sans","fontSize":15,"color":"#1030d0","align":"left"},"encoding":{"x":{"field":"c","type":"quantitative"},"y":{"field":"r","type":"quantitative"},"text":{"field":"t"}}}
]},
{"width":175,"height":361,"view":{"fill":"#f1f8fc","stroke":null},"title":{"text":"Legenda:","orient":"top","anchor":"start","dx":64,"dy":32,"offset":0,"font":"Liberation Sans","fontSize":19.5,"fontWeight":"normal","color":"#666666"},"data":{"values":[{"v":-0.0472},{"v":0.02337}]},"mark":{"type":"rect","width":0.01,"height":0.01},"encoding":{"color":{"field":"v","type":"quantitative","scale":{"domain":[-0.0472,-0.02956,-0.01192,0.00573,0.02337],"range":["#ff0000","#ffff00","#00ff00","#00ffff","#0000ff"]},"legend":{"orient":"none","legendX":5,"legendY":57,"title":null,"gradientLength":291,"gradientThickness":45,"labelOffset":13,"labelFont":"Liberation Sans","labelFontSize":17,"labelColor":"#666666","labelOverlap":false,"format":".5f","values":[-0.0472,-0.03838,-0.02956,-0.02074,-0.01192,-0.00309,0.00573,0.01455,0.02337],"encode":{"labels":{"update":{"baseline":{"value":"middle"}}}}}}}}
]},
{"spacing":4,"bounds":"flush","resolve":{"scale":{"color":"independent"},"legend":{"color":"independent"}},"hconcat":[
{"width":359,"height":361,"title":{"text":"b) Cisalhamento","orient":"bottom","anchor":"start","dx":108,"offset":34,"font":"Liberation Serif","fontSize":28.5,"fontWeight":"normal","color":"#000"},
"layer":[
{"data":{"name":"cBase"},"mark":{"type":"rect","clip":true},"encoding":{"x":{"field":"c","bin":{"step":36,"extent":[0,36]},"scale":{"domain":[0,33],"nice":false,"zero":false},"axis":null},"y":{"field":"r","bin":{"step":36,"extent":[0,36]},"scale":{"domain":[0,33],"nice":false,"zero":false,"reverse":true},"axis":null},"color":{"field":"v","type":"quantitative","scale":{"domain":[-0.03162,-0.01857,-0.00552,0.00753,0.02058],"range":["#ff0000","#ffff00","#00ff00","#00ffff","#0000ff"]},"legend":null}}},
{"data":{"name":"cBg"},"mark":{"type":"rect","clip":true},"encoding":{"x":{"field":"c","bin":{"step":4,"extent":[0,36]},"axis":null},"y":{"field":"r","bin":{"step":4,"extent":[0,36]},"axis":null},"color":{"field":"v","type":"quantitative","legend":null}}},
{"data":{"name":"cCell"},"mark":{"type":"rect","clip":true},"encoding":{"x":{"field":"c","bin":{"step":1,"extent":[0,33]},"axis":null},"y":{"field":"r","bin":{"step":1,"extent":[0,33]},"axis":null},"color":{"field":"v","type":"quantitative","legend":null}}},
{"data":{"name":"cFine"},"mark":{"type":"rect","clip":true},"encoding":{"x":{"field":"c","bin":{"step":0.5,"extent":[0,33]},"axis":null},"y":{"field":"r","bin":{"step":0.5,"extent":[0,33]},"axis":null},"color":{"field":"v","type":"quantitative","legend":null}}},
{"data":{"values":[{"c":-0.6,"r":33.05},{"c":-0.3,"r":33.05},{"c":0,"r":33.05},{"c":0.3,"r":33.05},{"c":0.6,"r":33.05},{"c":0.9,"r":33.05},{"c":1.2,"r":33.05},{"c":1.5,"r":33.05},{"c":1.8,"r":33.05},{"c":2.1,"r":33.05},{"c":2.4,"r":33.05}]},"mark":{"type":"circle","size":4,"color":"#a04030","opacity":0.8},"encoding":{"x":{"field":"c","type":"quantitative"},"y":{"field":"r","type":"quantitative"}}},
{"data":{"values":[{"c":0.1,"r":32.45,"t":"z"}]},"mark":{"type":"text","font":"Liberation Sans","fontSize":15,"color":"#1030d0","align":"left"},"encoding":{"x":{"field":"c","type":"quantitative"},"y":{"field":"r","type":"quantitative"},"text":{"field":"t"}}}
]},
{"width":166,"height":361,"view":{"fill":"#f1f8fc","stroke":null},"title":{"text":"Legenda:","orient":"top","anchor":"start","dx":65,"dy":32,"offset":0,"font":"Liberation Sans","fontSize":19.5,"fontWeight":"normal","color":"#666666"},"data":{"values":[{"v":-0.03162},{"v":0.02058}]},"mark":{"type":"rect","width":0.01,"height":0.01},"encoding":{"color":{"field":"v","type":"quantitative","scale":{"domain":[-0.03162,-0.01857,-0.00552,0.00753,0.02058],"range":["#ff0000","#ffff00","#00ff00","#00ffff","#0000ff"]},"legend":{"orient":"none","legendX":5,"legendY":57,"title":null,"gradientLength":291,"gradientThickness":45,"labelOffset":13,"labelFont":"Liberation Sans","labelFontSize":17,"labelColor":"#666666","labelOverlap":false,"format":".5f","values":[-0.03162,-0.0251,-0.01857,-0.01205,-0.00552,0.001,0.00753,0.01405,0.02058],"encode":{"labels":{"update":{"baseline":{"value":"middle"}}}}}}}}
]}
]}
